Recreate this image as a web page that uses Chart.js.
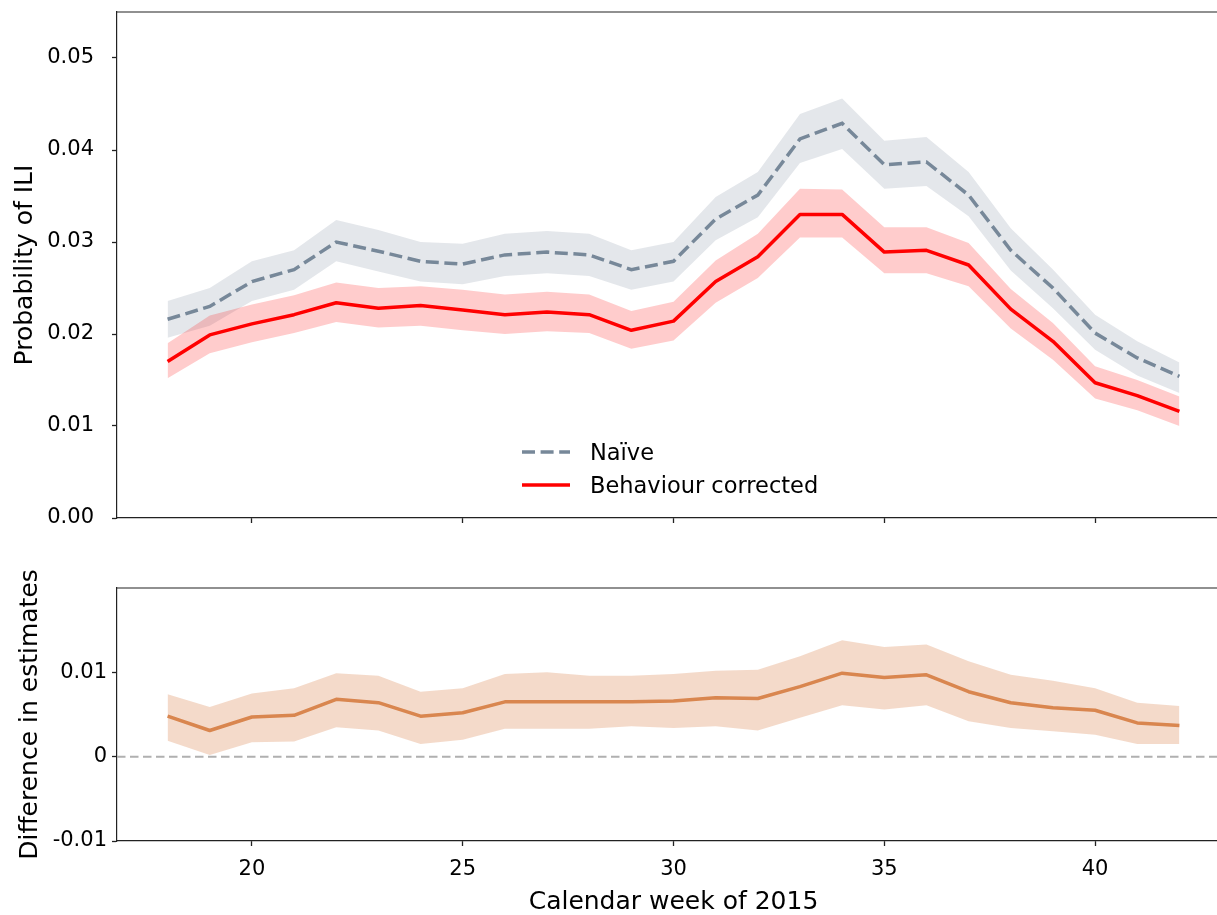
<!DOCTYPE html>
<html>
<head>
<meta charset="utf-8">
<script src="https://cdn.jsdelivr.net/npm/chart.js@4.4.1/dist/chart.umd.min.js"></script>
<style>
  html, body { margin: 0; padding: 0; background: #fff; overflow: hidden; width: 1217px; height: 915px; }
  canvas { position: absolute; left: 0; }
  #chart-top { top: 0; }
  #chart-diff { top: 560px; }
  .legend-row { position: absolute; left: 520px; height: 30px; display: flex; align-items: center;
                font-family: 'DejaVu Sans', sans-serif; font-size: 22.5px; color: #000; white-space: nowrap; }
  .legend-row svg { margin-right: 18px; }
</style>
</head>
<body>
<canvas id="chart-top" width="1250" height="535"></canvas>
<canvas id="chart-diff" width="1250" height="355"></canvas>
<div class="legend-row" style="top:437px">
  <svg width="52" height="10"><line x1="2" y1="5" x2="50" y2="5" stroke="#778899" stroke-width="3.5" stroke-dasharray="13 5.6"/></svg>Naïve
</div>
<div class="legend-row" style="top:470px">
  <svg width="52" height="10"><line x1="2" y1="5" x2="50" y2="5" stroke="#ff0000" stroke-width="3.5"/></svg>Behaviour corrected
</div>
<script>
// calendar weeks of 2015
const weeks = [18, 19, 20, 21, 22, 23, 24, 25, 26, 27, 28, 29, 30, 31, 32, 33, 34, 35, 36, 37, 38, 39, 40, 41, 42];

// naive estimate with its band
const naive   = [0.0216, 0.0230, 0.0257, 0.0270, 0.0300, 0.0290, 0.0279, 0.0276, 0.0286, 0.0289, 0.0286, 0.0270, 0.0279, 0.0325, 0.0351, 0.0412, 0.0429, 0.0384, 0.0387, 0.0351, 0.0291, 0.0250, 0.0201, 0.0174, 0.0154];
const naiveHi = [0.0236, 0.0250, 0.0279, 0.0291, 0.0324, 0.0313, 0.0300, 0.0298, 0.0309, 0.0312, 0.0309, 0.0291, 0.0300, 0.0349, 0.0376, 0.0439, 0.0456, 0.0410, 0.0414, 0.0376, 0.0315, 0.0270, 0.0221, 0.0192, 0.0169];
const naiveLo = [0.0196, 0.0209, 0.0236, 0.0248, 0.0279, 0.0268, 0.0257, 0.0254, 0.0263, 0.0266, 0.0263, 0.0248, 0.0257, 0.0302, 0.0327, 0.0386, 0.0401, 0.0358, 0.0361, 0.0328, 0.0269, 0.0228, 0.0183, 0.0155, 0.0136];

// behaviour corrected estimate with its band
const corrected   = [0.0170, 0.0199, 0.0211, 0.0221, 0.0234, 0.0228, 0.0231, 0.0226, 0.0221, 0.0224, 0.0221, 0.0204, 0.0214, 0.0257, 0.0284, 0.0330, 0.0330, 0.0289, 0.0291, 0.0275, 0.0227, 0.0192, 0.0147, 0.0133, 0.0116];
const correctedHi = [0.0190, 0.0220, 0.0232, 0.0242, 0.0256, 0.0250, 0.0252, 0.0248, 0.0243, 0.0246, 0.0243, 0.0225, 0.0235, 0.0280, 0.0309, 0.0358, 0.0357, 0.0316, 0.0316, 0.0299, 0.0249, 0.0212, 0.0165, 0.0150, 0.0132];
const correctedLo = [0.0152, 0.0179, 0.0191, 0.0201, 0.0213, 0.0207, 0.0209, 0.0204, 0.0200, 0.0203, 0.0201, 0.0184, 0.0193, 0.0234, 0.0261, 0.0305, 0.0305, 0.0266, 0.0266, 0.0252, 0.0206, 0.0172, 0.0130, 0.0117, 0.0100];

// difference between the two
const diff   = [0.0048, 0.0031, 0.0047, 0.0049, 0.0068, 0.0064, 0.0048, 0.0052, 0.0065, 0.0065, 0.0065, 0.0065, 0.0066, 0.0070, 0.0069, 0.0083, 0.0099, 0.0094, 0.0097, 0.0077, 0.0064, 0.0058, 0.0055, 0.0040, 0.0037];
const diffHi = [0.0074, 0.0059, 0.0075, 0.0081, 0.0099, 0.0096, 0.0077, 0.0081, 0.0098, 0.0100, 0.0096, 0.0096, 0.0098, 0.0102, 0.0103, 0.0119, 0.0138, 0.0130, 0.0133, 0.0113, 0.0097, 0.0090, 0.0081, 0.0064, 0.0060];
const diffLo = [0.0019, 0.0002, 0.0017, 0.0018, 0.0035, 0.0031, 0.0015, 0.0020, 0.0033, 0.0033, 0.0033, 0.0036, 0.0034, 0.0036, 0.0031, 0.0046, 0.0061, 0.0056, 0.0061, 0.0042, 0.0034, 0.0030, 0.0026, 0.0015, 0.0015];

const xMin = 16.8, xMax = 43.2;
const FONT = "'DejaVu Sans', sans-serif";
const SPINE = '#222';

Chart.defaults.font.family = FONT;
Chart.defaults.color = '#000';

function pts(ys) { return ys.map((y, i) => ({x: weeks[i], y: y})); }

// top and right spines, like matplotlib's box
const frame = {
    id: 'frame',
    afterDatasetsDraw(chart) {
        const a = chart.chartArea, ctx = chart.ctx;
        ctx.save();
        ctx.strokeStyle = SPINE;
        ctx.lineWidth = 1.2;
        ctx.beginPath();
        ctx.moveTo(a.left, a.top);
        ctx.lineTo(a.right, a.top);
        ctx.lineTo(a.right, a.bottom);
        ctx.stroke();
        ctx.restore();
    }
};

// no extra room for overhanging tick labels, the plot box is fixed
function noPad(scale) {
    scale.paddingTop = 0;
    scale.paddingBottom = 0;
    scale.paddingLeft = 0;
    scale.paddingRight = 0;
}

function band(data, color, order) {
    return { data: pts(data), borderColor: 'transparent', borderWidth: 0, pointRadius: 0, backgroundColor: color, order: order };
}

function xAxis(showLabels, height) {
    return {
        type: 'linear', min: xMin, max: xMax,
        border: { display: true, color: SPINE, width: 1.2 },
        grid: { display: true, drawOnChartArea: false, drawTicks: true, tickLength: 5, tickWidth: 1.3, tickColor: SPINE },
        ticks: { display: showLabels, stepSize: 5, includeBounds: false, padding: 11, font: { size: 21 }, color: '#000', maxRotation: 0 },
        title: showLabels ? { display: true, text: 'Calendar week of 2015', font: { size: 25, lineHeight: 1 }, padding: { top: 0, bottom: 0 }, color: '#000' } : { display: false },
        afterFit: (scale) => { scale.height = height; noPad(scale); }
    };
}

function yAxis(min, max, fmt, title, titlePad, labelPad) {
    return {
        min: min, max: max,
        border: { display: true, color: SPINE, width: 1.2 },
        grid: { display: true, drawOnChartArea: false, drawTicks: true, tickLength: 5, tickWidth: 1.3, tickColor: SPINE },
        ticks: { stepSize: 0.01, includeBounds: false, padding: labelPad, font: { size: 21 }, color: '#000', callback: fmt },
        title: { display: true, text: title, font: { size: 25, lineHeight: 1.2 }, padding: { top: titlePad, bottom: 0 }, color: '#000' },
        afterFit: (scale) => { scale.width = 117; noPad(scale); }
    };
}

new Chart(document.getElementById('chart-top'), {
    type: 'line',
    data: {
        datasets: [
            { ...band(naiveHi, 'rgba(119,136,153,0.2)', 5), fill: 1 },
            band(naiveLo, 'transparent', 5),
            { ...band(correctedHi, 'rgba(255,0,0,0.2)', 4), fill: 3 },
            band(correctedLo, 'transparent', 4),
            { label: 'Naïve', data: pts(naive), borderColor: '#778899', borderWidth: 3.5, borderDash: [13, 5.6],
              pointRadius: 0, fill: false, tension: 0, order: 1 },
            { label: 'Behaviour corrected', data: pts(corrected), borderColor: '#ff0000', borderWidth: 3.5,
              borderJoinStyle: 'round', pointRadius: 0, fill: false, tension: 0, order: 0 }
        ]
    },
    options: {
        responsive: false, animation: false, devicePixelRatio: 1,
        layout: { padding: { left: 0, top: 12, right: 20, bottom: 0 } },
        plugins: { legend: { display: false }, tooltip: { enabled: false } },
        scales: {
            x: xAxis(false, 17),
            y: yAxis(0, 0.055, (v) => v.toFixed(2), 'Probability of ILI', 10, 18)
        }
    },
    plugins: [frame]
});

new Chart(document.getElementById('chart-diff'), {
    type: 'line',
    data: {
        datasets: [
            { ...band(diffHi, 'rgba(217,134,79,0.3)', 5), fill: 1 },
            band(diffLo, 'transparent', 5),
            { data: [{x: xMin, y: 0}, {x: xMax, y: 0}], borderColor: '#b0b0b0', borderWidth: 2, borderDash: [8.5, 4.5],
              pointRadius: 0, fill: false, order: 3 },
            { label: 'Difference', data: pts(diff), borderColor: '#d9864f', borderWidth: 3.5,
              borderJoinStyle: 'round', pointRadius: 0, fill: false, tension: 0, order: 0 }
        ]
    },
    options: {
        responsive: false, animation: false, devicePixelRatio: 1,
        layout: { padding: { left: 0, top: 28, right: 20, bottom: 0 } },
        plugins: { legend: { display: false }, tooltip: { enabled: false } },
        scales: {
            x: xAxis(true, 74),
            y: yAxis(-0.01, 0.02, (v) => {
                if (v > 0.015) return null;
                if (Math.abs(v) < 1e-9) return '0';
                return v.toFixed(2);
            }, 'Difference in estimates', 15, 5)
        }
    },
    plugins: [frame]
});
</script>
</body>
</html>
